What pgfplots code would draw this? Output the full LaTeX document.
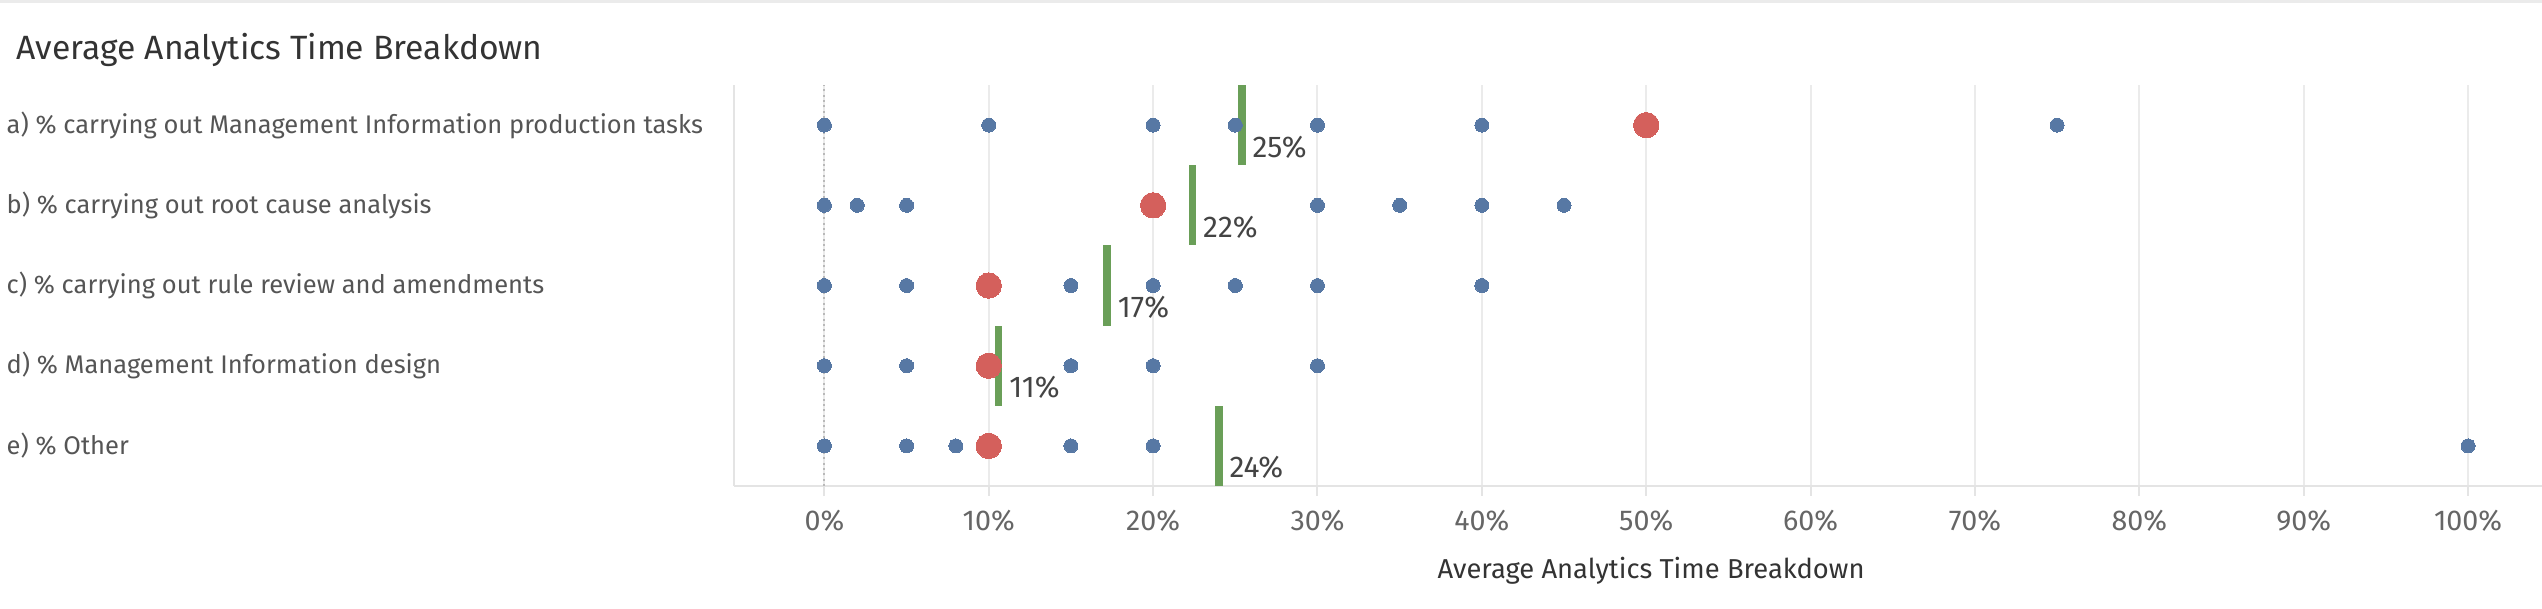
\documentclass[border=0pt]{standalone}
\usepackage{pgfplots}
\pgfplotsset{compat=1.18}
\usepackage{fontspec}
\setmainfont{Fira Sans}
\definecolor{bdot}{HTML}{5778A4}
\definecolor{rdot}{HTML}{D4605C}
\definecolor{gbar}{HTML}{6A9F58}
\definecolor{gridc}{HTML}{EBEBEB}
\definecolor{axc}{HTML}{E4E4E4}
\definecolor{titlec}{HTML}{333333}
\definecolor{labc}{HTML}{555555}
\definecolor{tickc}{HTML}{666666}
\definecolor{valc}{HTML}{444444}

% blue: individual responses
\pgfplotstableread{
x y
0 4
10 4
20 4
25 4
30 4
40 4
75 4
0 3
2 3
5 3
30 3
35 3
40 3
45 3
0 2
5 2
15 2
20 2
25 2
30 2
40 2
0 1
5 1
15 1
20 1
30 1
0 0
5 0
8 0
15 0
20 0
100 0
}\bluedata
% red: most common response
\pgfplotstableread{
x y
50 4
20 3
10 2
10 1
10 0
}\reddata
% green: average
\pgfplotstableread{
x y label
25.4 4 25\%
22.4 3 22\%
17.2 2 17\%
10.6 1 11\%
24.0 0 24\%
}\meandata

\begin{document}
\begin{tikzpicture}
\path[use as bounding box] (0pt,0pt) rectangle (762.6pt,182.4pt);
\fill[gridc] (0pt,181.4pt) rectangle (762.6pt,182.4pt);
\node[anchor=base west, inner sep=0pt, text=titlec, font=\fontsize{10.1}{12}\selectfont] at (4.8pt,164.4pt) {Average Analytics Time Breakdown};
\begin{axis}[
  at={(220.2pt,36.6pt)}, anchor=south west,
  scale only axis, width=542.4pt, height=120.3pt,
  xmin=-5.5, xmax=104.5, ymin=-0.5, ymax=4.5,
  clip=false,
  axis x line*=bottom, axis y line*=left,
  axis line style={axc, line width=0.6pt},
  xtick={0,10,...,100},
  xticklabels={0\%,10\%,20\%,30\%,40\%,50\%,60\%,70\%,80\%,90\%,100\%},
  xmajorgrids,
  major grid style={gridc, line width=0.6pt},
  x tick style={axc, line width=0.6pt},
  tick align=outside, major tick length=3pt,
  xticklabel style={anchor=base, yshift=-10.2pt, text=tickc, font=\fontsize{8.6}{10}\selectfont},
  /pgf/number format/assume math mode=true,
  extra x ticks={0}, extra x tick labels={},
  extra x tick style={grid=major, major grid style={densely dotted, gray!55, line width=0.6pt}},
  ytick={0,1,2,3,4},
  yticklabels={e) \% Other, d) \% Management Information design, c) \% carrying out rule review and amendments, b) \% carrying out root cause analysis, a) \% carrying out Management Information production tasks},
  y tick style={draw=none},
  yticklabel style={anchor=west, inner xsep=0pt, xshift=-215.4pt, text=labc, font=\fontsize{7.65}{9}\selectfont},
]
\addplot[draw=none, mark=*, mark size=2.1pt, mark options={fill=bdot, draw=bdot, line width=0pt}] table[x=x,y=y] {\bluedata};
\addplot[draw=none, mark=*, mark size=3.8pt, mark options={fill=rdot, draw=rdot, line width=0pt}] table[x=x,y=y] {\reddata};
\addplot[draw=none, mark=none,
  error bars/.cd, y dir=both, y fixed=0.5, error mark=none,
  error bar style={line width=2.3pt, draw=gbar}] table[x=x,y=y] {\meandata};
\addplot[draw=none, mark=none, nodes near coords, point meta=explicit symbolic,
  nodes near coords style={anchor=base west, inner sep=0pt, xshift=3pt, yshift=-9.6pt, text=valc, font=\fontsize{9}{10}\selectfont}]
  table[x=x,y=y,meta=label] {\meandata};
\end{axis}
\node[anchor=base, inner sep=0pt, text=titlec, font=\fontsize{8.2}{10}\selectfont] at (495.3pt,9pt) {Average Analytics Time Breakdown};
\end{tikzpicture}
\end{document}
